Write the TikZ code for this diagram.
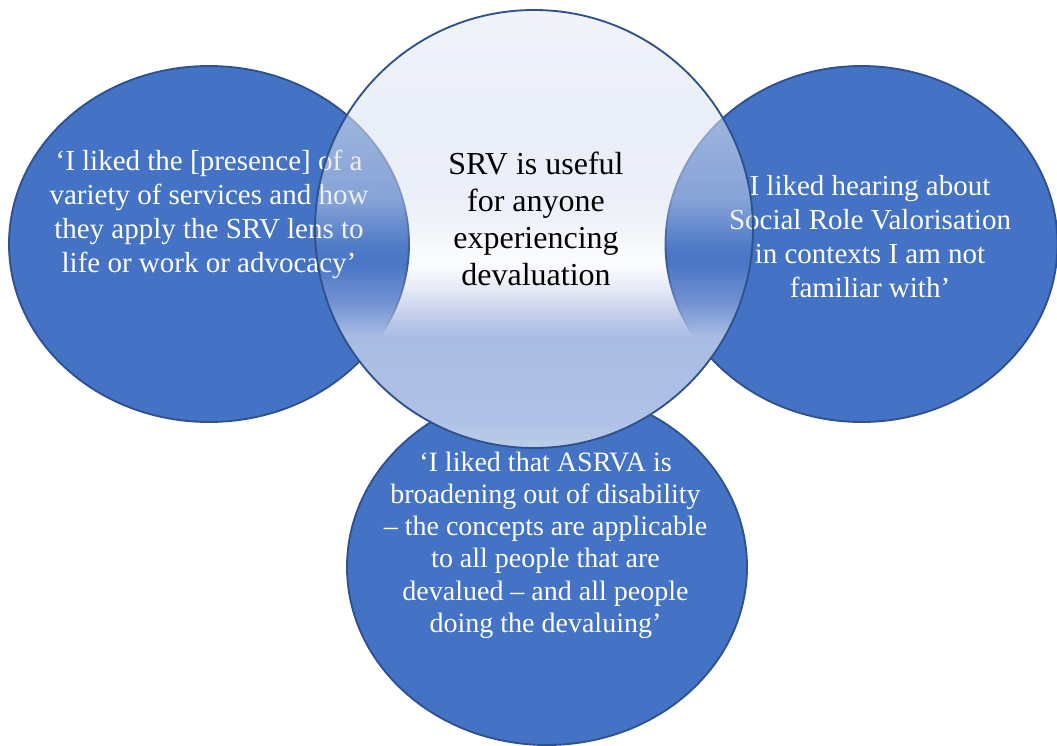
\documentclass[tikz,border=0pt]{standalone}
\usepackage{fontspec}
\setmainfont{Liberation Serif}
\usetikzlibrary{shapes.geometric,fadings}

\definecolor{vennblue}{HTML}{4472C4}
\definecolor{vennedge}{HTML}{2F528F}

% colour stops of the centre disc, top to bottom
\definecolor{sA}{RGB}{228,234,246}
\definecolor{sB}{RGB}{219,226,241}
\definecolor{sC}{RGB}{213,221,238}
\definecolor{sD}{RGB}{190,204,232}
\definecolor{sE}{RGB}{180,196,229}
\definecolor{sF}{RGB}{165,182,224}
\definecolor{sG}{RGB}{169,188,227}
\definecolor{sH}{RGB}{175,193,229}
\definecolor{sI}{RGB}{189,204,233}

% opacity stops of the centre disc (grey level = opacity)
\definecolor{oA}{gray}{0.55}
\definecolor{oB}{gray}{0.59}
\definecolor{oC}{gray}{0.46}
\definecolor{oD}{gray}{0.08}
\definecolor{oE}{gray}{0.06}
\definecolor{oF}{gray}{0.45}
\definecolor{oG}{gray}{1}

\pgfdeclareverticalshading{srvshade}{100bp}{%
  color(0bp)=(sI); color(25bp)=(sI); color(28.2bp)=(sH); color(37.9bp)=(sG);
  color(41.9bp)=(sF); color(45.9bp)=(sE); color(47.6bp)=(sD); color(53.3bp)=(sC);
  color(62.4bp)=(sB); color(75bp)=(sA); color(100bp)=(sA)}
\pgfdeclareverticalshading{srvfadeshade}{100bp}{%
  color(0bp)=(oG); color(37.9bp)=(oG); color(41.9bp)=(oF); color(45.9bp)=(oE);
  color(47.6bp)=(oD); color(53.3bp)=(oC); color(62.4bp)=(oB); color(75bp)=(oA);
  color(100bp)=(oA)}
\pgfdeclarefading{srvfade}{\pgfuseshading{srvfadeshade}}

\begin{document}
\begin{tikzpicture}[x=0.75pt, y=-0.75pt,
  blob/.style={ellipse, fill=vennblue, draw=vennedge, line width=1.4pt, inner sep=0pt},
  quote/.style={align=center, text=white, inner sep=0pt,
    font=\fontsize{21.75pt}{25.5pt}\selectfont},
  quotesmall/.style={quote, font=\fontsize{21pt}{24.2pt}\selectfont},
  core/.style={align=center, text=black, inner sep=0pt,
    font=\fontsize{24pt}{27.75pt}\selectfont}]
\useasboundingbox (0,0) rectangle (1057,746);

% outer ellipses
\node[blob, minimum width=300pt, minimum height=267pt] (L) at (209,244) {};
\node[blob, minimum width=294pt, minimum height=267pt] (R) at (861.5,244) {};
\node[blob, minimum width=300pt, minimum height=267pt] (B) at (547,567) {};

\node[quote] (Lt) at (209,214)
  {‘I liked the [presence] of a\\variety of services and how\\they apply the SRV lens to\\life or work or advocacy’};
\node[quote] (Rt) at (870,237)
  {I liked hearing about\\Social Role Valorisation\\in contexts I am not\\familiar with’};
\node[quotesmall] (Bt) at (545.5,545)
  {‘I liked that ASRVA is\\broadening out of disability\\– the concepts are applicable\\to all people that are\\devalued – and all people\\doing the devaluing’};

% translucent centre disc
\shade[shading=srvshade, path fading=srvfade] (534,229) circle [radius=219];
\node[circle, draw=vennedge, line width=1.4pt, minimum size=328.5pt, inner sep=0pt] (C) at (534,229) {};
\node[core] (Ct) at (536,218.5)
  {SRV is useful\\for anyone\\experiencing\\devaluation};
\end{tikzpicture}
\end{document}
